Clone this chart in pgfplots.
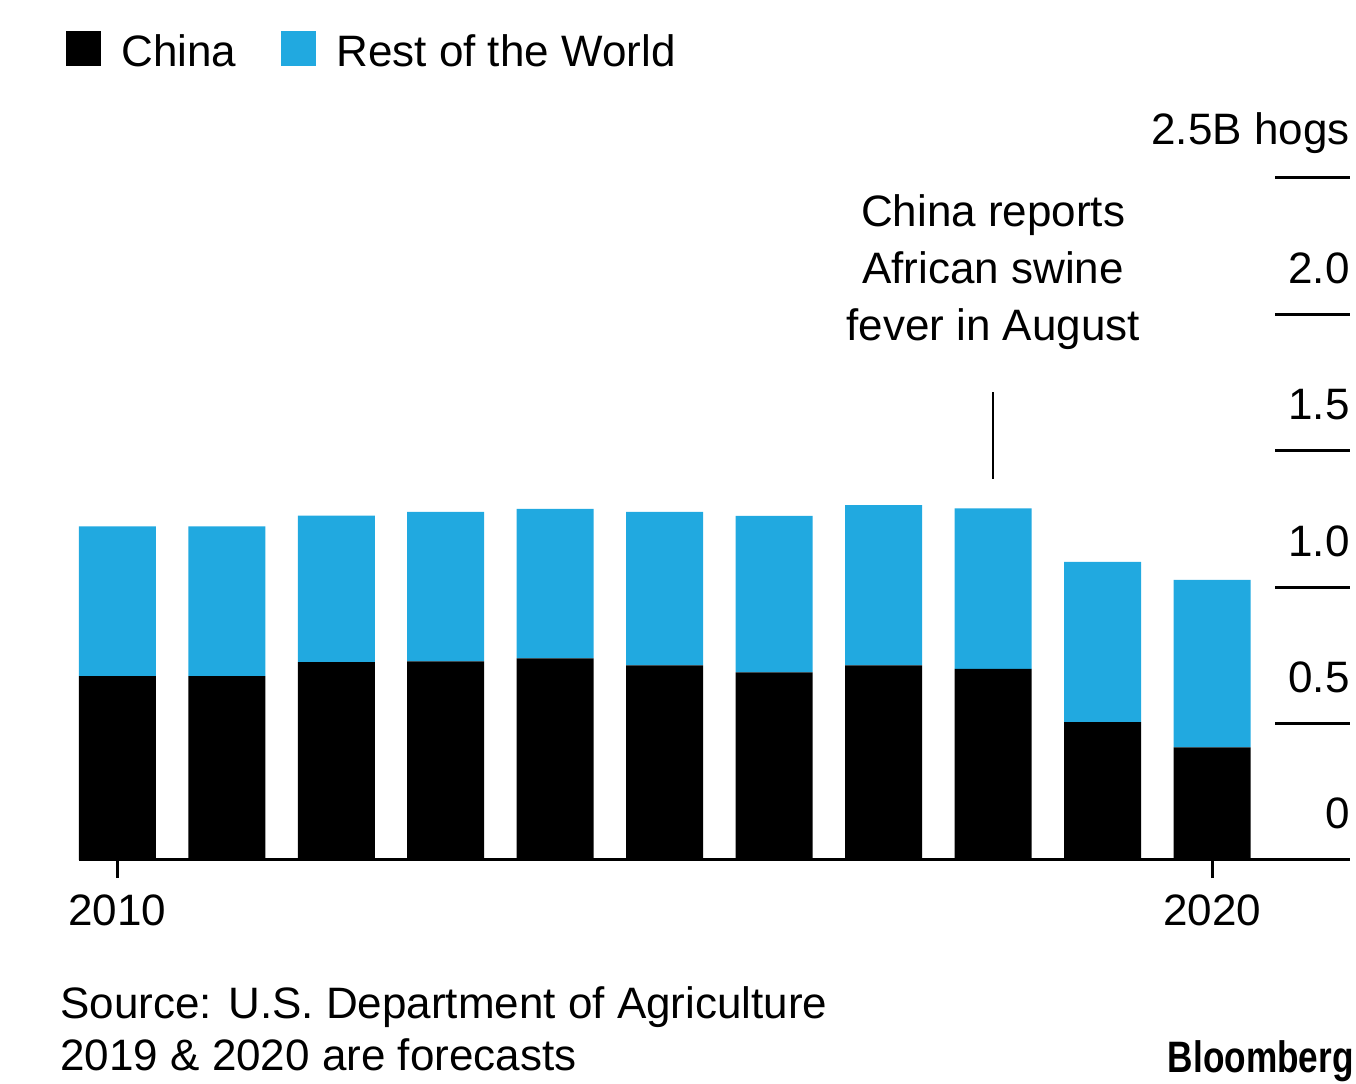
\documentclass[border=0pt]{standalone}
\usepackage{fontspec}
\setmainfont{Liberation Sans}
\usepackage{graphicx}
\usepackage{pgfplots}
\pgfplotsset{compat=1.18}
\usepackage{pgfplotstable}
\definecolor{rowblue}{RGB}{33,169,224}
\newcommand{\bigfont}{\fontsize{22}{26}\selectfont}
\pgfplotstableread{
year china rest
2010 0.674 0.549
2011 0.674 0.549
2012 0.725 0.537
2013 0.728 0.548
2014 0.739 0.548
2015 0.713 0.563
2016 0.688 0.573
2017 0.713 0.588
2018 0.701 0.588
2019 0.505 0.588
2020 0.413 0.614
}\hogdata
\begin{document}
\begin{tikzpicture}
\path[use as bounding box] (0,0) rectangle (678pt,541.5pt);
\begin{axis}[
  at={(39.5pt,111.5pt)}, anchor=south west,
  scale only axis, width=635.5pt, height=341pt,
  xmin=2009.65, xmax=2021.26, ymin=0, ymax=2.5,
  ybar stacked, bar width=38.5pt,
  axis x line*=bottom, axis y line=none,
  x axis line style={line width=1.5pt,-},
  xtick={2010,2020}, ytick=\empty,
  tick align=outside, major tick length=9pt,
  xtick style={line width=1.5pt, black},
  xticklabel style={font=\bigfont, yshift=-5pt, /pgf/number format/1000 sep={}, /pgf/number format/assume math mode=true},
  clip=false,
  legend style={at={(-0.0102,1.2155)}, anchor=north west, draw=none, fill=none,
    inner sep=0pt, font=\bigfont, legend columns=-1, nodes={inner sep=0pt},
    /tikz/every odd column/.append style={column sep=10pt},
    /tikz/every even column/.append style={column sep=22.5pt}},
]
\addplot[fill=black, draw=none, legend image code/.code={\fill[black] (0pt,-7.1pt) rectangle (17.5pt,10.4pt);}] table[x=year,y=china]{\hogdata};
\addplot[fill=rowblue, draw=none, legend image code/.code={\fill[rowblue] (0pt,-7.1pt) rectangle (17.5pt,10.4pt);}] table[x=year,y=rest]{\hogdata};
\legend{China, Rest of the World}
% right-hand value guides
\draw[line width=1.5pt] (axis cs:2020.575,0.5) -- (axis cs:2021.26,0.5);
\draw[line width=1.5pt] (axis cs:2020.575,1.0) -- (axis cs:2021.26,1.0);
\draw[line width=1.5pt] (axis cs:2020.575,1.5) -- (axis cs:2021.26,1.5);
\draw[line width=1.5pt] (axis cs:2020.575,2.0) -- (axis cs:2021.26,2.0);
\draw[line width=1.5pt] (axis cs:2020.575,2.5) -- (axis cs:2021.26,2.5);
\node[anchor=base east, inner sep=0pt, yshift=15.5pt, font=\bigfont] at (axis cs:2021.26,0) {0};
\node[anchor=base east, inner sep=0pt, yshift=15.5pt, font=\bigfont] at (axis cs:2021.26,0.5) {0.5};
\node[anchor=base east, inner sep=0pt, yshift=15.5pt, font=\bigfont] at (axis cs:2021.26,1.0) {1.0};
\node[anchor=base east, inner sep=0pt, yshift=15.5pt, font=\bigfont] at (axis cs:2021.26,1.5) {1.5};
\node[anchor=base east, inner sep=0pt, yshift=15.5pt, font=\bigfont] at (axis cs:2021.26,2.0) {2.0};
\node[anchor=base east, inner sep=0pt, yshift=16.5pt, font=\bigfont] at (axis cs:2021.26,2.5) {2.5B hogs};
% annotation
\node[anchor=base, inner sep=0pt, font=\bigfont] at (axis cs:2018,2.324) {China reports};
\node[anchor=base, inner sep=0pt, font=\bigfont] at (axis cs:2018,2.114) {African swine};
\node[anchor=base, inner sep=0pt, font=\bigfont] at (axis cs:2018,1.904) {fever in August};
\draw[line width=1.2pt] (axis cs:2018,1.397) -- (axis cs:2018,1.717);
\end{axis}
\node[anchor=base west, inner sep=0pt, font=\bigfont] at (30pt,32.5pt) {Source: U.S. Department of Agriculture};
\node[anchor=base west, inner sep=0pt, font=\bigfont] at (30pt,6.5pt) {2019 \& 2020 are forecasts};
\node[anchor=base east, inner sep=0pt, font=\bigfont\bfseries] at (677pt,5.5pt) {\scalebox{0.8}[1]{Bloomberg}};
\end{tikzpicture}
\end{document}
